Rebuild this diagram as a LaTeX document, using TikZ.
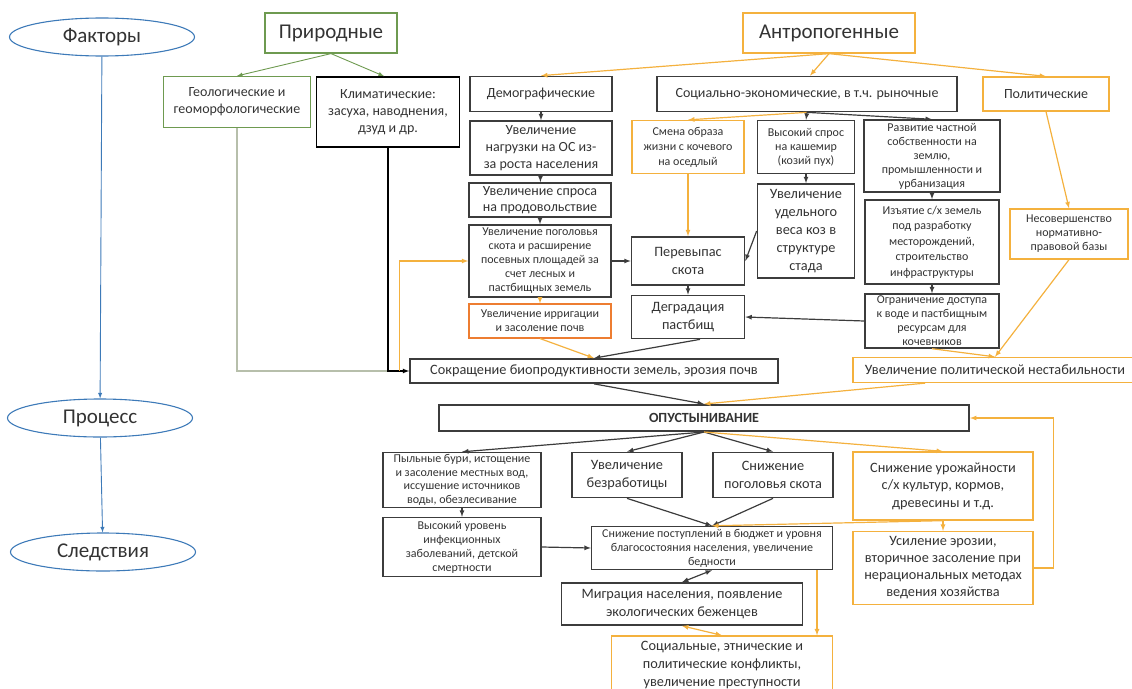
\documentclass[tikz,border=0pt]{standalone}
\usepackage{fontspec}
\setmainfont{Carlito}
\usetikzlibrary{shapes.geometric}
\definecolor{bl}{HTML}{3D7AB8}
\definecolor{gr}{HTML}{6E9A50}
\definecolor{grl}{HTML}{B7BFAB}
\definecolor{org}{HTML}{F4B13E}
\definecolor{red}{HTML}{ED7D31}
\definecolor{dk}{HTML}{3C3C3C}
\definecolor{txt}{HTML}{333333}

\begin{document}
\begin{tikzpicture}[x=1pt,y=-1pt,
    every node/.style={text=txt,align=center,inner sep=1pt},
    ell/.style={ellipse,draw=bl,line width=1.1pt,minimum width=185pt,minimum height=38pt},
    bx/.style={rectangle,draw=dk,line width=1.7pt},
    gbx/.style={rectangle,draw=gr,line width=1.2pt},
    obx/.style={rectangle,draw=org,line width=1.3pt},
    fbig/.style={font=\fontsize{21}{24}\selectfont},
    fhead/.style={font=\fontsize{14}{17}\selectfont},
    fmid/.style={font=\fontsize{14.3}{17.5}\selectfont},
    fsm/.style={font=\fontsize{12}{14}\selectfont},
    arr/.style={-latex,draw=dk,line width=1.2pt},
    oarr/.style={-latex,draw=org,line width=1.2pt},
    barr/.style={-latex,draw=bl,line width=0.9pt}]
\useasboundingbox (0,0) rectangle (1132,688);

% left column
\node(fak) at (102,37)[ell,fbig]{Факторы};
\node(proc) at (100,418)[ell,fbig]{Процесс};
\node(sled) at (103,552)[ell,fbig]{Следствия};
\draw[barr] (fak) -- (proc);
\draw[barr] (proc) -- (sled);

% factors
\node(prir) at (331,33)[gbx,fbig,minimum width=132pt,minimum height=40pt]{Природные};
\node(geo) at (237,102)[gbx,font=\fontsize{14}{17}\selectfont,minimum width=147pt,minimum height=51pt]{Геологические и\\геоморфологические};
\node(klim) at (388,112)[bx,draw=black,fhead,minimum width=143pt,minimum height=70pt]{Климатические:\\засуха, наводнения,\\дзуд и др.};
\node(antr) at (829,33)[obx,fbig,minimum width=172pt,minimum height=40pt]{Антропогенные};
\node(dem) at (541,94)[bx,fhead,minimum width=142pt,minimum height=35pt]{Демографические};
\node(soc) at (807,94)[bx,fhead,minimum width=300pt,minimum height=35pt]{Социально-экономические, в т.ч. рыночные};
\node(pol) at (1046,94)[obx,fhead,minimum width=126pt,minimum height=34pt]{Политические};

\draw[-latex,draw=gr,line width=0.9pt] (prir.south) -- (geo.north);
\draw[-latex,draw=gr,line width=0.9pt] (prir.south) -- ([xshift=-4pt]klim.north);
\draw[oarr] (antr.south) -- (dem.north);
\draw[oarr] (antr.south) -- ([xshift=3pt]soc.north);
\draw[oarr] (antr.south) -- (pol.north);

% demographic chain
\node(nagr) at (541,148)[bx,font=\fontsize{14}{17}\selectfont,minimum width=142pt,minimum height=54pt]{Увеличение\\нагрузки на ОС из-\\за роста населения};
\node(spros) at (540,200)[bx,font=\fontsize{14}{16}\selectfont,minimum width=142pt,minimum height=34pt]{Увеличение спроса\\на продовольствие};
\node(pogol) at (540,261)[bx,fsm,minimum width=142pt,minimum height=72pt]{Увеличение поголовья\\скота и расширение\\посевных площадей за\\счет лесных и\\пастбищных земель};
\node(irrig) at (540,321)[rectangle,draw=red,line width=1.1pt,fsm,minimum width=142pt,minimum height=34pt]{Увеличение ирригации\\и засоление почв};
\draw[arr] (dem) -- (nagr);
\draw[arr] (nagr) -- (spros);
\draw[arr] (spros) -- (pogol);
\draw[oarr] (pogol) -- (irrig);

% socio-economic chain
\node(smena) at (688,147)[obx,font=\fontsize{12}{15}\selectfont,minimum width=112pt,minimum height=53pt]{Смена образа\\жизни с кочевого\\на оседлый};
\node(vys) at (806,147)[bx,line width=1.4pt,fsm,minimum width=97pt,minimum height=53pt]{Высокий спрос\\на кашемир\\(козий пух)};
\node(razv) at (932,156)[bx,line width=1.4pt,fsm,minimum width=136pt,minimum height=72pt]{Развитие частной\\собственности на\\землю,\\промышленности и\\урбанизация};
\node(ves) at (806,231)[bx,font=\fontsize{14.3}{18}\selectfont,minimum width=97pt,minimum height=94pt]{Увеличение\\удельного\\веса коз в\\структуре\\стада};
\node(izyat) at (932,242)[bx,font=\fontsize{12}{15.5}\selectfont,minimum width=134pt,minimum height=84pt]{Изъятие с/х земель\\под разработку\\месторождений,\\строительство\\инфраструктуры};
\node(ogr) at (932,321)[bx,line width=1.4pt,fsm,minimum width=134pt,minimum height=54pt]{Ограничение доступа\\к воде и пастбищным\\ресурсам для\\кочевников};
\node(nesov) at (1069,234)[obx,fsm,minimum width=118pt,minimum height=50pt]{Несовершенство\\нормативно-\\правовой базы};
\node(perev) at (688,261)[bx,fmid,minimum width=113pt,minimum height=48pt]{Перевыпас\\скота};
\node(degr) at (688,317)[bx,fmid,minimum width=113pt,minimum height=43pt]{Деградация\\пастбищ};

\draw[oarr] (soc.south) -- (smena.north);
\draw[arr] (soc.south) -- (vys.north);
\draw[arr] (soc.south) -- (razv.north);
\draw[oarr] (smena) -- (perev);
\draw[arr] (vys) -- (ves);
\draw[arr] (ves.west) -- (perev.east);
\draw[arr] (pogol.east) -- (perev.west);
\draw[arr] (perev) -- (degr);
\draw[arr] (razv) -- (izyat);
\draw[arr] (izyat) -- (ogr);
\draw[arr] (ogr.west) -- (degr.east);
\draw[oarr] (pol.south) -- (nesov.north);

% process
\node(sokr) at (594,371)[bx,fmid,minimum width=368pt,minimum height=24pt]{Сокращение биопродуктивности земель, эрозия почв};
\node(nestab) at (995,370)[obx,fmid,minimum width=284pt,minimum height=25pt]{Увеличение политической нестабильности};
\node(opust) at (704,418)[bx,line width=2pt,font=\fontsize{14}{16}\selectfont\bfseries,minimum width=530pt,minimum height=26pt]{ОПУСТЫНИВАНИЕ};

\coordinate(fb) at ([xshift=-10pt]sokr.west);
\draw[draw=grl,line width=1.2pt] (geo.south) |- (klim.south |- sokr.west);
\draw[arr,draw=black] (klim.south) |- (sokr.west);
\draw[oarr] (fb) |- (pogol.west);
\draw[oarr] (irrig.south) -- (sokr.north);
\draw[arr] ([xshift=12pt]degr.south) -- (sokr.north);
\draw[oarr] (ogr.south) -- (nestab.north);
\draw[oarr] (nesov.south) -- (nestab.north);
\draw[arr] (sokr.south) -- (opust.north);
\draw[oarr] ([xshift=-70pt]nestab.south) -- (opust.north);

% consequences
\node(pyl) at (462,480)[bx,line width=1.4pt,font=\fontsize{12}{13.5}\selectfont,minimum width=158pt,minimum height=55pt]{Пыльные бури, истощение\\и засоление местных вод,\\иссушение источников\\воды, обезлесивание};
\node(infek) at (462,547)[bx,line width=1.4pt,fsm,minimum width=158pt,minimum height=59pt]{Высокий уровень\\инфекционных\\заболеваний, детской\\смертности};
\node(bezr) at (627,475)[bx,fmid,minimum width=110pt,minimum height=45pt]{Увеличение\\безработицы};
\node(pogsk) at (773,475)[bx,fmid,minimum width=120pt,minimum height=45pt]{Снижение\\поголовья скота};
\node(urozh) at (943,486)[obx,fmid,minimum width=180pt,minimum height=68pt]{Снижение урожайности\\с/х культур, кормов,\\древесины и т.д.};
\node(usil) at (943,568)[obx,font=\fontsize{14.3}{17}\selectfont,minimum width=180pt,minimum height=73pt]{Усиление эрозии,\\вторичное засоление при\\нерациональных методах\\ведения хозяйства};
\node(postup) at (712,548)[bx,line width=1.4pt,fsm,minimum width=241pt,minimum height=43pt]{Снижение поступлений в бюджет и уровня\\благосостояния населения, увеличение\\бедности};
\node(migr) at (682,604)[bx,fmid,minimum width=241pt,minimum height=42pt]{Миграция населения, появление\\экологических беженцев};
\node(konfl) at (722,665)[obx,font=\fontsize{14.3}{18}\selectfont,minimum width=221pt,minimum height=58pt]{Социальные, этнические и\\политические конфликты,\\увеличение преступности};

\draw[arr] (opust.south) -- (pyl.north);
\draw[arr] (opust.south) -- (bezr.north);
\draw[arr] (opust.south) -- (pogsk.north);
\draw[oarr] (opust.south) -- (urozh.north);
\draw[arr] (pyl) -- (infek);
\draw[arr] (infek.east) -- (postup.west);
\draw[arr] (bezr.south) -- (postup.north);
\draw[arr] (pogsk.south) -- (postup.north);
\draw[oarr] (urozh.south) -- (postup.north);
\draw[oarr] (urozh) -- (usil);
\draw[oarr] (usil.east) -- ++(20,0) |- (opust.east);
\draw[latex-latex,draw=dk,line width=1.2pt] (postup.south) -- (migr.north);
\draw[latex-latex,draw=org,line width=1.2pt] (migr.south) -- (konfl.north);
\draw[oarr] ([xshift=105pt]postup.south) -- ([xshift=95pt]konfl.north);

\end{tikzpicture}
\end{document}
